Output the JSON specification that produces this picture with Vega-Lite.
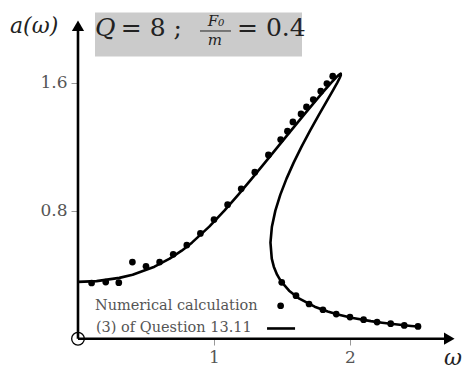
{
  "$schema": "https://vega.github.io/schema/vega-lite/v6.json",
  "width": 469,
  "height": 370,
  "autosize": "none",
  "padding": 0,
  "background": "white",
  "view": {"stroke": null},
  "config": {"font": "DejaVu Serif"},
  "data": {"values": [{}]},
  "datasets": {
    "curve": [
      {"i": 0, "w": 0, "a": 0.355},
      {"i": 1, "w": 0.1365, "a": 0.36},
      {"i": 2, "w": 0.304, "a": 0.38},
      {"i": 3, "w": 0.4016, "a": 0.4},
      {"i": 4, "w": 0.5625, "a": 0.45},
      {"i": 5, "w": 0.6741, "a": 0.5},
      {"i": 6, "w": 0.7626, "a": 0.55},
      {"i": 7, "w": 0.8376, "a": 0.6},
      {"i": 8, "w": 0.9651, "a": 0.7},
      {"i": 9, "w": 1.0763, "a": 0.8},
      {"i": 10, "w": 1.1793, "a": 0.9},
      {"i": 11, "w": 1.278, "a": 1.0},
      {"i": 12, "w": 1.3746, "a": 1.1},
      {"i": 13, "w": 1.4703, "a": 1.2},
      {"i": 14, "w": 1.5661, "a": 1.3},
      {"i": 15, "w": 1.6625, "a": 1.4},
      {"i": 16, "w": 1.7605, "a": 1.5},
      {"i": 17, "w": 1.8107, "a": 1.55},
      {"i": 18, "w": 1.8625, "a": 1.6},
      {"i": 19, "w": 1.8955, "a": 1.63},
      {"i": 20, "w": 1.9137, "a": 1.645},
      {"i": 21, "w": 1.932, "a": 1.6554},
      {"i": 22, "w": 1.9324, "a": 1.645},
      {"i": 23, "w": 1.9249, "a": 1.63},
      {"i": 24, "w": 1.9067, "a": 1.6},
      {"i": 25, "w": 1.8737, "a": 1.55},
      {"i": 26, "w": 1.8398, "a": 1.5},
      {"i": 27, "w": 1.7721, "a": 1.4},
      {"i": 28, "w": 1.7064, "a": 1.3},
      {"i": 29, "w": 1.6439, "a": 1.2},
      {"i": 30, "w": 1.5858, "a": 1.1},
      {"i": 31, "w": 1.5333, "a": 1.0},
      {"i": 32, "w": 1.4878, "a": 0.9},
      {"i": 33, "w": 1.4512, "a": 0.8},
      {"i": 34, "w": 1.4258, "a": 0.7},
      {"i": 35, "w": 1.4152, "a": 0.6},
      {"i": 36, "w": 1.4248, "a": 0.5},
      {"i": 37, "w": 1.4398, "a": 0.45},
      {"i": 38, "w": 1.4639, "a": 0.4},
      {"i": 39, "w": 1.4916, "a": 0.36},
      {"i": 40, "w": 1.5521, "a": 0.3},
      {"i": 41, "w": 1.6277, "a": 0.25},
      {"i": 42, "w": 1.7402, "a": 0.2},
      {"i": 43, "w": 1.8359, "a": 0.17},
      {"i": 44, "w": 1.9179, "a": 0.15},
      {"i": 45, "w": 2.0207, "a": 0.13},
      {"i": 46, "w": 2.1537, "a": 0.11},
      {"i": 47, "w": 2.2361, "a": 0.1},
      {"i": 48, "w": 2.333, "a": 0.09},
      {"i": 49, "w": 2.4489, "a": 0.08},
      {"i": 50, "w": 2.5, "a": 0.0765}
    ],
    "dots": [
      {"w": 0.10, "a": 0.348}, {"w": 0.204, "a": 0.354}, {"w": 0.30, "a": 0.35},
      {"w": 0.40, "a": 0.479}, {"w": 0.50, "a": 0.452}, {"w": 0.60, "a": 0.479},
      {"w": 0.70, "a": 0.527}, {"w": 0.80, "a": 0.585}, {"w": 0.90, "a": 0.658},
      {"w": 1.0, "a": 0.744}, {"w": 1.10, "a": 0.8375}, {"w": 1.20, "a": 0.936},
      {"w": 1.30, "a": 1.04}, {"w": 1.40, "a": 1.148}, {"w": 1.49, "a": 1.244},
      {"w": 1.54, "a": 1.296}, {"w": 1.58, "a": 1.354}, {"w": 1.64, "a": 1.404},
      {"w": 1.68, "a": 1.448}, {"w": 1.73, "a": 1.494}, {"w": 1.785, "a": 1.546},
      {"w": 1.83, "a": 1.594}, {"w": 1.873, "a": 1.64},
      {"w": 1.498, "a": 0.352}, {"w": 1.603, "a": 0.269}, {"w": 1.699, "a": 0.217},
      {"w": 1.801, "a": 0.181}, {"w": 1.899, "a": 0.154}, {"w": 2.0, "a": 0.135},
      {"w": 2.1, "a": 0.119}, {"w": 2.199, "a": 0.104}, {"w": 2.299, "a": 0.094},
      {"w": 2.399, "a": 0.083}, {"w": 2.5, "a": 0.077}
    ]
  },
  "layer": [
    {
      "mark": {"type": "rect", "color": "#cbcbcb"},
      "encoding": {
        "x": {"datum": 0.125, "type": "quantitative", "scale": {"domain": [-0.5735, 2.875], "nice": false, "zero": false}},
        "x2": {"datum": 1.647},
        "y": {"datum": 2.0375, "type": "quantitative", "scale": {"domain": [-0.1953, 2.1156], "nice": false, "zero": false}},
        "y2": {"datum": 1.7625}
      }
    },
    {
      "data": {"name": "curve"},
      "mark": {"type": "line", "color": "black", "strokeWidth": 2.6, "strokeJoin": "round"},
      "encoding": {
        "x": {"field": "w", "type": "quantitative",
          "axis": {"values": [1, 2], "format": "d", "orient": "bottom", "offset": -31, "domain": false, "grid": false, "title": null,
            "tickColor": "#999", "tickSize": 6, "tickWidth": 1, "labelFont": "DejaVu Serif", "labelFontSize": 17,
            "labelColor": "#555", "labelPadding": 4}},
        "y": {"field": "a", "type": "quantitative",
          "axis": {"values": [0.8, 1.6], "orient": "left", "offset": -78, "domain": false, "grid": false, "title": null,
            "format": ".1f", "tickColor": "#999", "tickSize": 7, "tickWidth": 1, "labelFont": "DejaVu Serif", "labelFontSize": 17,
            "labelColor": "#555", "labelPadding": 4}},
        "order": {"field": "i", "type": "quantitative"}
      }
    },
    {
      "data": {"name": "dots"},
      "mark": {"type": "circle", "color": "black", "opacity": 1, "size": 45},
      "encoding": {
        "x": {"field": "w", "type": "quantitative"},
        "y": {"field": "a", "type": "quantitative"}
      }
    },
    {
      "mark": {"type": "rule", "color": "black", "strokeWidth": 2.6},
      "encoding": {"x": {"datum": 0, "type": "quantitative"}, "x2": {"datum": 2.72}, "y": {"datum": 0, "type": "quantitative"}}
    },
    {
      "mark": {"type": "rule", "color": "black", "strokeWidth": 2.6},
      "encoding": {"x": {"datum": 0, "type": "quantitative"}, "y": {"datum": 0, "type": "quantitative"}, "y2": {"datum": 1.93}}
    },
    {
      "mark": {"type": "point", "shape": "triangle-right", "filled": true, "color": "black", "opacity": 1, "size": 150},
      "encoding": {"x": {"datum": 2.73, "type": "quantitative"}, "y": {"datum": 0, "type": "quantitative"}}
    },
    {
      "mark": {"type": "point", "shape": "triangle-up", "filled": true, "color": "black", "opacity": 1, "size": 150},
      "encoding": {"x": {"datum": 0, "type": "quantitative"}, "y": {"datum": 1.955, "type": "quantitative"}}
    },
    {
      "mark": {"type": "point", "shape": "circle", "filled": false, "color": "black", "opacity": 1, "strokeWidth": 1.3, "size": 160},
      "encoding": {"x": {"datum": 0, "type": "quantitative"}, "y": {"datum": 0, "type": "quantitative"}}
    },
    {
      "mark": {"type": "circle", "color": "black", "opacity": 1, "size": 45},
      "encoding": {"x": {"datum": 1.49, "type": "quantitative"}, "y": {"datum": 0.206, "type": "quantitative"}}
    },
    {
      "mark": {"type": "rule", "color": "black", "strokeWidth": 2.6},
      "encoding": {"x": {"datum": 1.39, "type": "quantitative"}, "x2": {"datum": 1.596}, "y": {"datum": 0.064, "type": "quantitative"}}
    },
    {
      "mark": {"type": "text", "text": "Numerical calculation", "font": "DejaVu Serif", "align": "left", "baseline": "alphabetic", "fontSize": 14.5, "color": "#555"},
      "encoding": {"x": {"datum": 0.125, "type": "quantitative"}, "y": {"datum": 0.178, "type": "quantitative"}}
    },
    {
      "mark": {"type": "text", "text": "(3) of Question 13.11", "font": "DejaVu Serif", "align": "left", "baseline": "alphabetic", "fontSize": 14.5, "color": "#555"},
      "encoding": {"x": {"datum": 0.132, "type": "quantitative"}, "y": {"datum": 0.0425, "type": "quantitative"}}
    },
    {
      "mark": {"type": "text", "text": "a(ω)", "font": "DejaVu Serif", "align": "left", "baseline": "alphabetic", "fontSize": 22, "fontStyle": "italic", "color": "#222"},
      "encoding": {"x": {"datum": -0.5, "type": "quantitative"}, "y": {"datum": 1.909, "type": "quantitative"}}
    },
    {
      "mark": {"type": "text", "text": "ω", "font": "DejaVu Serif", "align": "center", "baseline": "alphabetic", "fontSize": 22, "fontStyle": "italic", "color": "#222"},
      "encoding": {"x": {"datum": 2.757, "type": "quantitative"}, "y": {"datum": -0.165, "type": "quantitative"}}
    },
    {
      "mark": {"type": "text", "text": "Q", "font": "DejaVu Serif", "align": "left", "baseline": "alphabetic", "fontSize": 25, "fontStyle": "italic", "color": "#222"},
      "encoding": {"x": {"datum": 0.125, "type": "quantitative"}, "y": {"datum": 1.8906, "type": "quantitative"}}
    },
    {
      "mark": {"type": "text", "text": "= 8 ;", "font": "DejaVu Serif", "align": "left", "baseline": "alphabetic", "fontSize": 25, "color": "#222"},
      "encoding": {"x": {"datum": 0.315, "type": "quantitative"}, "y": {"datum": 1.8906, "type": "quantitative"}}
    },
    {
      "mark": {"type": "text", "text": "F₀", "font": "DejaVu Serif", "align": "center", "baseline": "alphabetic", "fontSize": 15, "fontStyle": "italic", "color": "#222"},
      "encoding": {"x": {"datum": 1.0147, "type": "quantitative"}, "y": {"datum": 1.953, "type": "quantitative"}}
    },
    {
      "mark": {"type": "rule", "color": "#222", "strokeWidth": 1},
      "encoding": {"x": {"datum": 0.897, "type": "quantitative"}, "x2": {"datum": 1.125}, "y": {"datum": 1.922, "type": "quantitative"}}
    },
    {
      "mark": {"type": "text", "text": "m", "font": "DejaVu Serif", "align": "center", "baseline": "alphabetic", "fontSize": 15, "fontStyle": "italic", "color": "#222"},
      "encoding": {"x": {"datum": 1.007, "type": "quantitative"}, "y": {"datum": 1.8344, "type": "quantitative"}}
    },
    {
      "mark": {"type": "text", "text": "= 0.4", "font": "DejaVu Serif", "align": "left", "baseline": "alphabetic", "fontSize": 25, "color": "#222"},
      "encoding": {"x": {"datum": 1.169, "type": "quantitative"}, "y": {"datum": 1.8906, "type": "quantitative"}}
    }
  ]
}
